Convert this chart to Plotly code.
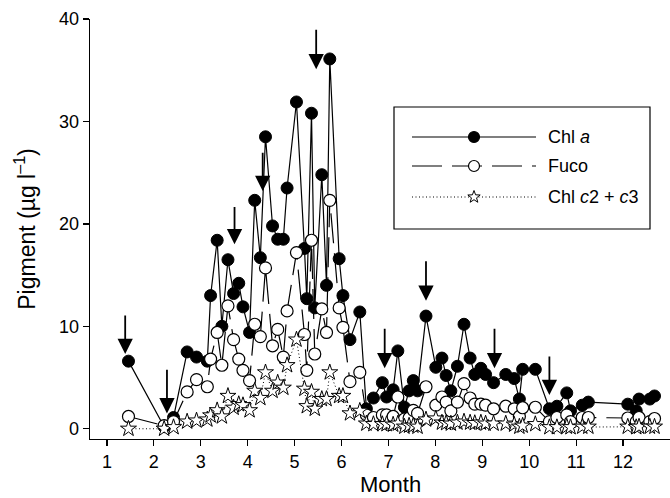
import numpy as np
import plotly.graph_objects as go

# ---------------- data ----------------
months = [1.46, 2.22, 2.42, 2.71, 2.91, 3.14, 3.21, 3.35, 3.45, 3.58,
          3.70, 3.81, 3.90, 4.04, 4.15, 4.27, 4.38, 4.53, 4.64, 4.76,
          4.84, 5.04, 5.21, 5.26, 5.36, 5.43, 5.58, 5.68, 5.75, 5.95,
          6.03, 6.18, 6.39, 6.53, 6.68, 6.87, 6.96, 7.10, 7.20, 7.34,
          7.44, 7.53, 7.62, 7.80, 8.01, 8.14, 8.23, 8.33, 8.47, 8.61,
          8.74, 8.84, 8.97, 9.07, 9.24, 9.50, 9.68, 9.79, 9.86, 10.13,
          10.43, 10.59, 10.80, 10.88, 11.13, 11.26, 12.10, 12.28, 12.34, 12.57,
          12.67]

chl_a = [6.6, 0.2, 1.1, 7.5, 7.0, 6.6, 13.0, 18.4, 10.0, 16.5,
         13.2, 14.2, 11.9, 9.4, 22.3, 16.7, 28.5, 19.8, 18.5, 18.5,
         23.5, 31.9, 17.6, 12.7, 30.8, 11.8, 24.8, 14.0, 36.1, 16.6,
         13.0, 8.7, 11.4, 1.95, 3.0, 4.5, 3.1, 3.8, 7.6, 2.1,
         3.7, 4.7, 3.7, 11.0, 6.0, 6.9, 5.2, 3.7, 6.1, 10.2,
         6.9, 5.3, 5.9, 5.3, 4.5, 5.3, 4.9, 2.9, 5.8, 5.8,
         1.95, 2.2, 3.5, 1.75, 2.3, 2.6, 2.4, 1.75, 2.9, 2.9,
         3.2]

fuco = [1.2, 0.3, 0.7, 3.6, 4.8, 4.1, 6.8, 9.4, 6.2, 12.0,
        8.7, 6.8, 5.7, 4.7, 10.2, 9.0, 15.7, 8.1, 9.7, 7.0,
        11.5, 17.2, 9.2, 5.7, 18.4, 7.3, 11.7, 9.4, 22.3, 11.8,
        9.9, 4.6, 5.5, 1.35, 1.1, 1.35, 1.35, 1.2, 3.1, 0.95,
        1.05, 1.8, 1.5, 4.1, 2.3, 3.1, 2.6, 1.75, 2.6, 4.4,
        3.0, 2.4, 2.4, 2.3, 1.95, 2.2, 1.95, 1.2, 2.05, 2.1,
        0.7, 1.1, 1.35, 0.7, 1.1, 1.1, 1.05, 0.7, 1.1, 0.7,
        1.0]

chl_c = [0.0, 0.0, 0.15, 0.7, 0.8, 0.9, 1.3, 1.8, 1.2, 3.2,
         2.05, 2.4, 2.3, 1.8, 3.7, 3.0, 5.5, 3.7, 4.5, 4.0,
         6.2, 8.7, 3.9, 2.2, 3.6, 1.95, 2.9, 2.9, 5.5, 3.2,
         3.2, 1.5, 1.75, 0.5, 0.45, 0.45, 0.45, 0.4, 0.5, 0.2,
         0.3, 0.3, 0.2, 0.9, 1.0, 0.6, 0.55, 0.5, 0.6, 0.7,
         0.6, 0.55, 0.6, 0.5, 0.5, 0.5, 0.4, 0.2, 0.3, 0.45,
         0.15, 0.15, 0.2, 0.15, 0.2, 0.2, 0.2, 0.15, 0.2, 0.2,
         0.2]

series_names = ["Chl <i>a</i>", "Fuco", "Chl <i>c</i>2 + <i>c</i>3"]
x_title = "Month"
y_title = "Pigment (µg l<sup>–1</sup>)"

arrow_months = [1.39, 2.28, 3.72, 4.32, 5.46, 6.92, 7.80, 9.26, 10.43]
arrow_tips = [7.3, 1.5, 18.0, 23.2, 35.1, 5.9, 12.5, 5.9, 3.3]
arrow_tails = [11.2, 5.9, 21.8, 27.1, 39.1, 9.9, 16.5, 9.9, 7.2]

x_ticks = list(range(1, 13))
y_ticks = [0, 10, 20, 30, 40]

# ---------------- styling ----------------
FONT = "Liberation Sans, Arial, Helvetica, sans-serif"
W_FIG, H_FIG = 670, 498
L, T, R, B = 90, 19, 0, 59
PW, PH = W_FIG - L - R, H_FIG - T - B

FUCO_DASH = "30px,10px"
DOT_DASH = "1px,2.5px"

fig = go.Figure()

fig.add_trace(go.Scatter(
    x=months, y=chl_a, mode="lines+markers", name=series_names[0],
    line=dict(color="black", width=1.2),
    marker=dict(symbol="circle", size=12, color="black",
                line=dict(color="black", width=1)),
    showlegend=False))

fig.add_trace(go.Scatter(
    x=months, y=fuco, mode="lines+markers", name=series_names[1],
    line=dict(color="black", width=1.2, dash=FUCO_DASH),
    marker=dict(symbol="circle", size=12, color="white",
                line=dict(color="black", width=1.2)),
    showlegend=False))

fig.add_trace(go.Scatter(
    x=months, y=chl_c, mode="lines+markers", name=series_names[2],
    line=dict(color="black", width=1, dash=DOT_DASH),
    marker=dict(symbol="star", size=12, color="white",
                line=dict(color="black", width=1)),
    showlegend=False))

# arrows
for m, tip, tail in zip(arrow_months, arrow_tips, arrow_tails):
    fig.add_annotation(x=m, y=tip, ax=m, ay=tail, xref="x", yref="y",
                       axref="x", ayref="y", text="", showarrow=True,
                       arrowhead=2, arrowsize=1.7, arrowwidth=1.8,
                       arrowcolor="black", standoff=0)

# ---------------- manual legend ----------------
def px(x):
    return (x - L) / PW

def py(y):
    return 1 - (y - T) / PH

fig.add_shape(type="rect", xref="paper", yref="paper",
              x0=px(394), x1=px(650), y0=py(229), y1=py(107),
              line=dict(color="black", width=1.2), fillcolor="white", layer="above")

rows = [137, 166, 197]
line_x0, line_x1, mark_x, text_x = 412, 536, 474, 546
dashes = ["solid", FUCO_DASH, DOT_DASH]
widths = [1.2, 1.2, 1.0]

# star geometry (pixel offsets)
ang = np.pi / 2 + np.arange(10) * np.pi / 5
rad = np.where(np.arange(10) % 2 == 0, 6.5, 2.7)
sx, sy = rad * np.cos(ang), rad * np.sin(ang)
star_path = "M" + "L".join(f"{a:.2f},{b:.2f}" for a, b in zip(sx, sy)) + "Z"

for i, yrow in enumerate(rows):
    fig.add_shape(type="line", xref="paper", yref="paper",
                  x0=px(line_x0), x1=px(line_x1), y0=py(yrow), y1=py(yrow),
                  line=dict(color="black", width=widths[i], dash=dashes[i]),
                  layer="above")
    if i < 2:
        fig.add_shape(type="circle", xref="paper", yref="paper",
                      xsizemode="pixel", ysizemode="pixel",
                      xanchor=px(mark_x), yanchor=py(yrow),
                      x0=-5.5, x1=5.5, y0=-5.5, y1=5.5,
                      fillcolor="black" if i == 0 else "white",
                      line=dict(color="black", width=1.2), layer="above")
    else:
        fig.add_shape(type="path", xref="paper", yref="paper",
                      xsizemode="pixel", ysizemode="pixel",
                      xanchor=px(mark_x), yanchor=py(yrow),
                      path=star_path, fillcolor="white",
                      line=dict(color="black", width=1), layer="above")
    fig.add_annotation(x=px(text_x), y=py(yrow), xref="paper", yref="paper",
                       text=series_names[i], showarrow=False,
                       xanchor="left", yanchor="middle",
                       font=dict(family=FONT, size=18, color="black"))

# x-axis title placed as an annotation so it stays inside the canvas
fig.add_annotation(x=px(390), y=py(484), xref="paper", yref="paper",
                   text=x_title, showarrow=False, xanchor="center",
                   yanchor="middle", font=dict(family=FONT, size=22, color="black"))

fig.update_layout(
    width=W_FIG, height=H_FIG,
    margin=dict(l=L, r=R, t=T, b=B, pad=0),
    paper_bgcolor="white", plot_bgcolor="white",
    font=dict(family=FONT, size=18, color="black"),
    xaxis=dict(range=[0.64, 13.0], tickvals=x_ticks, ticks="outside",
               ticklen=6, tickwidth=1.3, tickcolor="black",
               showline=True, linecolor="black", linewidth=1.3,
               showgrid=False, zeroline=False,
               tickfont=dict(size=18)),
    yaxis=dict(range=[-1, 40], tickvals=y_ticks, ticks="outside",
               ticklen=6, tickwidth=1.3, tickcolor="black",
               showline=True, linecolor="black", linewidth=1.3,
               showgrid=False, zeroline=False,
               tickfont=dict(size=18),
               title=dict(text=y_title, font=dict(size=23), standoff=17)),
)

# remove the default page margin so the figure sits at the window's origin
fig.write_html(
    "out.html",
    config={"displayModeBar": False, "staticPlot": True},
    post_script="document.body.style.margin='0';document.body.style.padding='0';"
                "document.body.style.overflow='hidden';",
)
